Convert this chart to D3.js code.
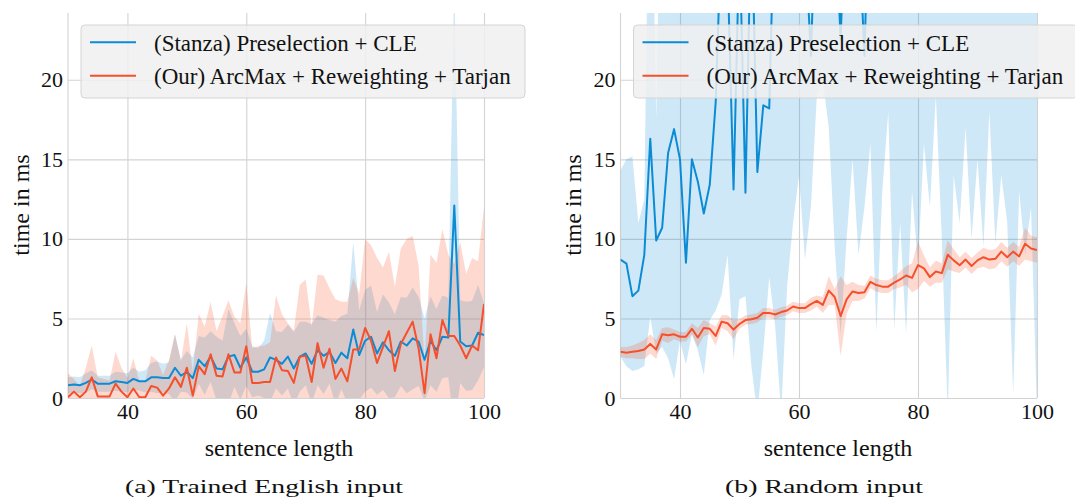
<!DOCTYPE html>
<html><head><meta charset="utf-8">
<script src="https://cdn.jsdelivr.net/npm/d3@7"></script>
<style>
body{margin:0;background:#fff}
svg{display:block}
text{font-family:"Liberation Serif";fill:#111}
</style>
</head><body>
<svg id="chart" width="1075" height="500"></svg>
<script>
// ---------- DATA ----------
const sentenceLength = [30,31,32,33,34,35,36,37,38,39,40,41,42,43,44,45,46,47,48,49,50,51,52,53,54,55,56,57,58,59,60,61,62,63,64,65,66,67,68,69,70,71,72,73,74,75,76,77,78,79,80,81,82,83,84,85,86,87,88,89,90,91,92,93,94,95,96,97,98,99,100];
const xTicks = [40, 60, 80, 100];
const yTicks = [0, 5, 10, 15, 20];
const seriesNames = ["(Stanza) Preselection + CLE", "(Our) ArcMax + Reweighting + Tarjan"];
const panelCaptions = ["(a) Trained English input", "(b) Random input"];
const xLabel = "sentence length";
const yLabel = "time in ms";

// (a) Trained English input
const englishStanzaMean = [0.8,0.85,0.8,0.95,1.15,0.9,0.9,0.9,1.05,1.0,
  0.95,1.2,1.05,1.05,1.3,1.3,1.25,1.25,1.9,1.4,
  1.65,1.25,2.4,2.0,2.6,1.85,1.8,2.6,2.7,1.9,
  2.55,1.65,1.65,1.8,2.55,2.4,2.15,2.6,1.85,2.6,
  2.8,2.15,3.0,2.65,2.9,2.2,2.85,2.5,4.3,2.7,
  3.6,3.85,2.8,3.5,3.0,2.65,3.55,3.3,3.75,3.55,
  2.4,3.6,3.0,3.85,3.8,12.1,3.55,3.25,3.3,4.1,3.95];
const englishStanzaStd = [0.5,0.5,0.5,0.6,0.6,0.5,0.5,0.5,0.6,0.6,
  0.6,0.7,0.6,0.7,0.9,1.0,0.9,1.0,2.1,1.0,
  1.3,1.3,1.5,1.8,1.6,2.0,1.8,3.0,2.0,2.0,
  1.8,1.6,1.5,1.8,2.8,1.8,2.0,2.0,2.3,2.2,
  2.0,2.5,2.2,2.4,2.0,2.6,2.3,2.8,5.5,2.8,
  3.2,3.2,2.6,3.0,3.0,2.6,2.8,3.0,3.2,2.8,
  2.6,2.8,2.6,2.6,2.5,14,2.6,2.8,2.8,3.0,2.0];
const englishOursMean = [0.05,0.4,0.05,0.4,1.3,0.1,0.1,0.1,0.9,0.4,
  0.05,0.6,0.05,0.05,0.75,0.65,0.15,0.6,1.3,0.7,
  1.9,0.15,2.0,1.5,2.75,1.4,1.35,2.75,1.6,1.6,
  3.25,0.95,0.95,1.0,1.0,2.55,1.75,1.7,0.95,2.6,
  2.65,1.0,3.45,1.9,3.1,1.2,1.85,1.05,3.05,3.05,
  4.4,3.6,2.2,3.2,4.2,1.7,3.4,4.1,4.8,3.1,
  0.3,4.0,2.5,4.9,3.9,3.9,3.3,2.5,3.3,3.0,5.9];
const englishOursStd = [1.5,0.8,0.7,1.5,2.0,1.2,1.1,1.0,2.0,1.5,
  1.2,1.9,1.0,1.0,1.9,1.7,1.3,1.8,2.7,1.6,
  2.8,1.5,3.3,3.0,3.3,2.8,3.8,3.4,3.5,3.1,
  4.0,2.2,2.3,2.3,2.5,3.9,3.5,3.0,3.3,4.5,
  4.8,3.5,4.3,5.8,3.8,5.0,4.2,5.0,4.5,3.5,
  5.6,6.0,6.6,5.0,5.0,5.3,6.0,5.9,5.4,5.2,
  2.0,5.0,6.0,5.7,5.1,4.5,6.5,5.3,5.5,5.6,6.1];

// (b) Random input
const randomStanzaMean = [8.7,8.45,6.4,6.75,9.0,16.3,9.9,10.7,15.4,16.9,
  15.0,8.5,15.0,13.6,11.6,13.4,18.6,30,27,13.1,
  29,12.9,31,14.2,18.4,18.2,33,36,30,38,
  34,29,21.5,33,40,36,31,22.5,34,42,
  30,21.5,35,44,39,46,41,48,44,50,
  47,52,45,55,50,57,53,60,55,62,
  58,64,60,67,62,70,65,72,68,74,70];
const randomStanzaLow = [2.6,2.0,1.7,1.8,2.0,5.1,2.8,3.2,2.5,1.2,
  3.6,2.1,4.0,3.0,1.45,4.9,5.5,6.5,9.0,2.4,
  6.2,6.4,2.0,-1,3.0,7.6,4.5,-1,7,11,
  14,8.7,12,19,20,17,9.5,4,10,15,
  9,12,16,4.1,13,18,4.3,11,4.0,13,
  8.3,16,12,19,10,-1,14,11,17,10,
  15,9.5,18,9.7,14,11,0.2,13,9,12,-1];
const randomStanzaHigh = [14.3,15.0,15.2,11.0,12.5,40,17.5,40,40,40,
  40,40,40,40,40,40,40,40,40,40,
  40,40,40,40,40,40,40,40,40,40,
  40,40,40,40,40,40,40,40,40,40,
  40,40,40,40,40,40,40,40,40,40,
  40,40,40,40,40,40,40,40,40,40,
  40,40,40,40,40,40,40,40,40,40,40];
const randomOursMean = [2.9,2.85,2.9,2.95,3.05,3.4,3.05,4.0,3.95,4.0,
  3.85,3.85,4.35,3.8,4.4,4.35,3.9,4.8,4.7,4.3,
  4.65,4.9,4.95,5.05,5.35,5.35,5.25,5.4,5.5,5.75,
  5.65,5.65,5.9,6.1,5.85,6.75,6.35,5.15,6.2,6.7,
  6.6,6.65,7.3,7.1,7.0,7.0,7.25,7.45,7.7,7.55,
  8.35,8.15,7.6,7.95,7.85,9.0,8.65,8.35,8.7,8.3,
  8.65,8.85,8.7,8.75,9.2,8.85,9.2,8.9,9.7,9.4,9.3];
const randomOursStd = [0.3,0.35,0.4,0.5,0.6,0.6,0.6,0.4,0.5,0.3,
  0.3,0.3,0.35,0.6,0.5,0.35,0.6,0.4,0.5,0.6,
  0.3,0.3,0.3,0.3,0.3,0.3,0.3,0.3,0.3,0.3,
  0.3,0.3,0.4,0.35,0.5,0.9,0.5,2.5,0.9,0.6,
  0.5,0.4,0.4,0.4,0.4,0.4,0.4,0.5,0.6,0.9,
  1.5,0.8,0.6,0.7,0.6,0.9,0.7,0.5,0.5,0.5,
  0.5,0.6,0.6,0.6,0.6,0.6,0.6,0.6,1.0,0.8,0.8];

// ---------- STYLE ----------
const blue = "#0c8bd5", red = "#f5502b";
const gridColor = "#d3d3d3";
const FONT = "Liberation Serif";

const svg = d3.select("#chart");
const plotTop = 13, plotBottom = 398;

function band(mean, lo, hi) {
  return sentenceLength.map((x, i) => ({x, m: mean[i], lo: lo[i], hi: hi[i]}));
}
function sym(mean, sd) {
  return band(mean, mean.map((m, i) => m - sd[i]), mean.map((m, i) => m + sd[i]));
}

const panels = [
  {x0: 68, x1: 484, ylabX: 21, xlabX: 279, capX: 264, caption: panelCaptions[0], capLen: 278,
   stanza: sym(englishStanzaMean, englishStanzaStd), ours: sym(englishOursMean, englishOursStd)},
  {x0: 620.5, x1: 1037, ylabX: 573, xlabX: 838, capX: 824, caption: panelCaptions[1], capLen: 198,
   stanza: band(randomStanzaMean, randomStanzaLow, randomStanzaHigh), ours: sym(randomOursMean, randomOursStd)}
];

panels.forEach((p, pi) => {
  const x = d3.scaleLinear().domain([30, 100]).range([p.x0, p.x1]);
  const y = d3.scaleLinear().domain([0, 24.2]).range([plotBottom, plotTop]);
  const g = svg.append("g");
  const clipId = "clip" + pi;
  svg.append("clipPath").attr("id", clipId).append("rect")
    .attr("x", p.x0).attr("y", plotTop).attr("width", p.x1 - p.x0).attr("height", plotBottom - plotTop);

  // grid
  const gx = g.append("g").attr("transform", `translate(0,${plotBottom})`)
    .call(d3.axisBottom(x).tickValues(xTicks).tickSize(-(plotBottom - plotTop)).tickFormat(""));
  const gy = g.append("g").attr("transform", `translate(${p.x0},0)`)
    .call(d3.axisLeft(y).tickValues(yTicks).tickSize(-(p.x1 - p.x0)).tickFormat(""));
  [gx, gy].forEach(a => {
    a.select(".domain").remove();
    a.selectAll("line").attr("stroke", gridColor).attr("stroke-width", 1.1);
  });
  g.append("line").attr("x1", p.x0).attr("x2", p.x0).attr("y1", plotTop).attr("y2", plotBottom)
    .attr("stroke", gridColor).attr("stroke-width", 1.1);

  const area = d3.area().x(d => x(d.x)).y0(d => y(d.lo)).y1(d => y(d.hi));
  const line = d3.line().x(d => x(d.x)).y(d => y(d.m));
  const data = g.append("g").attr("clip-path", `url(#${clipId})`);
  data.append("path").datum(p.stanza).attr("d", area).attr("fill", blue).attr("fill-opacity", 0.2);
  data.append("path").datum(p.ours).attr("d", area).attr("fill", red).attr("fill-opacity", 0.22);
  data.append("path").datum(p.stanza).attr("d", line).attr("fill", "none").attr("stroke", blue)
    .attr("stroke-width", 2).attr("stroke-linejoin", "round");
  data.append("path").datum(p.ours).attr("d", line).attr("fill", "none").attr("stroke", red)
    .attr("stroke-width", 2).attr("stroke-linejoin", "round");

  // tick labels
  const ax = g.append("g").attr("transform", `translate(0,${plotBottom})`)
    .call(d3.axisBottom(x).tickValues(xTicks).tickSize(0).tickPadding(5));
  const ay = g.append("g").attr("transform", `translate(${p.x0},0)`)
    .call(d3.axisLeft(y).tickValues(yTicks).tickSize(0).tickPadding(5));
  [ax, ay].forEach(a => {
    a.attr("font-family", FONT).attr("font-size", 22);
    a.select(".domain").remove();
    a.selectAll("text").attr("font-size", 22).attr("font-family", FONT).attr("fill", "#111");
  });

  // axis titles
  g.append("text").attr("x", p.xlabX).attr("y", 456).attr("text-anchor", "middle")
    .attr("font-family", FONT).attr("font-size", 24).text(xLabel);
  g.append("text").attr("transform", `translate(${p.ylabX + 8},205) rotate(-90)`)
    .attr("text-anchor", "middle").attr("font-family", FONT).attr("font-size", 24).text(yLabel);
  g.append("text").attr("x", p.capX).attr("y", 493).attr("text-anchor", "middle")
    .attr("font-size", 19).attr("font-family", "DejaVu Serif")
    .attr("textLength", p.capLen).attr("lengthAdjust", "spacingAndGlyphs").text(p.caption);

  // legend
  const lg = g.append("g").attr("transform", `translate(${p.x0 + 13},25)`);
  lg.append("rect").attr("width", 444).attr("height", 73).attr("rx", 4)
    .attr("fill", "#f0f0f0").attr("fill-opacity", 0.85).attr("stroke", "#d4d4d4").attr("stroke-width", 1);
  [blue, red].forEach((c, i) => {
    const yy = 17.3 + i * 33.4;
    lg.append("line").attr("x1", 9).attr("x2", 55).attr("y1", yy).attr("y2", yy)
      .attr("stroke", c).attr("stroke-width", 2);
    lg.append("text").attr("x", 73).attr("y", yy + 8.5).attr("font-family", FONT)
      .attr("font-size", 23).text(seriesNames[i]);
  });
});
</script>
</body></html>
